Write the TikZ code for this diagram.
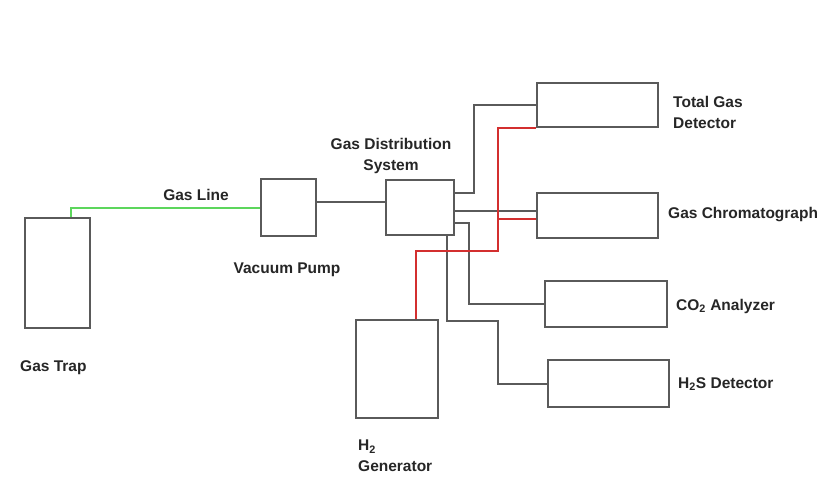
\documentclass[tikz,border=0pt]{standalone}
\usepackage{fontspec}
\setmainfont{Liberation Sans}
\begin{document}
\begin{tikzpicture}[x=1pt,y=-1pt,
  box/.style={draw=boxgray,line width=2pt,inner sep=0pt,minimum width=#1},
  gline/.style={draw=boxgray,line width=2pt},
  rline/.style={draw=redline,line width=2pt},
  glin/.style={draw=greenline,line width=2pt},
  lbl/.style={font=\bfseries\fontsize{15.5}{21}\selectfont,text=black!85,inner sep=0pt}]
\definecolor{boxgray}{HTML}{5A5A5A}
\definecolor{redline}{HTML}{D32F2F}
\definecolor{greenline}{HTML}{5CD65C}
\useasboundingbox[fill=white] (0,0) rectangle (827,479);
% boxes
\node[box=65pt,minimum height=110pt] (trap) at (57.5,273) {};
\node[box=55pt,minimum height=57pt] (pump) at (288.5,207.5) {};
\node[box=68pt,minimum height=55pt] (gds) at (420,207.5) {};
\node[box=121pt,minimum height=44pt] (tgd) at (597.5,105) {};
\node[box=121pt,minimum height=45pt] (gc) at (597.5,215.5) {};
\node[box=122pt,minimum height=46pt] (co2) at (606,304) {};
\node[box=121pt,minimum height=47pt] (h2s) at (608.5,383.5) {};
\node[box=82pt,minimum height=98pt] (h2gen) at (397,369) {};
% labels
\node[lbl] (lgasline) at (196,195) {Gas Line};
\node[lbl] (lpump) at (287,270) {Vacuum Pump};
\node[lbl,anchor=west] (ltrap) at (20,368) {Gas Trap};
\node[lbl,align=center] (lgds) at (391,155.5) {Gas Distribution\\System};
\node[lbl,align=left,anchor=west] (ltgd) at (673,112) {Total Gas\\Detector};
\node[lbl,anchor=west] (lgc) at (668,215) {Gas Chromatograph};
\node[lbl,anchor=west] (lco2) at (676,306) {CO\textsubscript{2} Analyzer};
\node[lbl,anchor=west] (lh2s) at (678,384) {H\textsubscript{2}S Detector};
\node[lbl,align=left,anchor=north west] (lh2gen) at (358,440) {H\textsubscript{2}\\Generator};
% connectors
\draw[glin] ([xshift=13.5pt]trap.north) |- (pump.west);
\draw[gline] ([yshift=6pt]pump.east) -- ([yshift=6pt]gds.west);
\draw[gline] ([yshift=14.5pt]gds.east) -- ++(19,0) |- (tgd.west);
\draw[gline] ([yshift=-3.5pt]gds.east) -- ([yshift=4.5pt]gc.west);
\draw[gline] ([yshift=-15.5pt]gds.east) -- ++(14,0) |- (co2.west);
\draw[gline] ([xshift=27pt]gds.south) |- (498,321) |- (h2s.west);
\coordinate (rj) at (498,219);
\draw[rline] (tgd.south west) -| (498,251) -| ([xshift=19pt]h2gen.north);
\draw[rline] (rj) -- ([yshift=-3.5pt]gc.west);
\end{tikzpicture}
\end{document}
